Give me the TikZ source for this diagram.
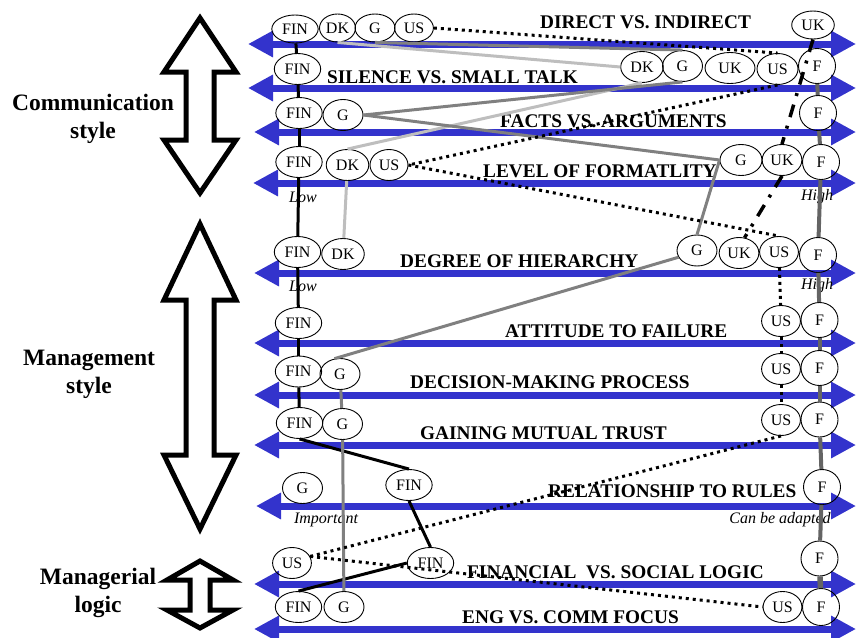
\documentclass[tikz,border=0pt]{standalone}
\usepackage{fontspec}
\setmainfont{Liberation Serif}
\usetikzlibrary{shapes.geometric,arrows.meta}
\definecolor{axisblue}{RGB}{51,51,204}
\definecolor{dkgray}{RGB}{190,190,190}
\definecolor{ggray}{RGB}{128,128,128}
\definecolor{fgray}{RGB}{100,100,100}
\begin{document}
\begin{tikzpicture}[x=1pt,y=-1pt,
  axisline/.style={line width=7pt, axisblue,
    {Triangle[length=25pt,width=25pt]}-{Triangle[length=25pt,width=25pt]}},
  dimtitle/.style={font=\fontsize{19.3}{22}\selectfont\bfseries, anchor=base west, inner sep=0pt},
  landnode/.style={ellipse, draw, line width=0.9pt, font=\fontsize{16}{18}\selectfont,
    inner xsep=3.5pt, inner ysep=0pt, minimum width=38pt, minimum height=31pt},
  gnode/.style={landnode, minimum width=40pt},
  fnode/.style={landnode, minimum width=37pt, minimum height=35pt},
  polelabel/.style={font=\fontsize{16}{18}\selectfont\itshape, inner sep=0pt},
  grouplabel/.style={font=\fontsize{23.5}{28}\selectfont\bfseries, anchor=base, inner sep=0pt},
  bigarrow/.style={draw=black, line width=5pt, fill=white, line join=miter},
  finline/.style={line width=3pt, black},
  dkline/.style={line width=3pt, dkgray},
  gline/.style={line width=3pt, ggray},
  ukline/.style={line width=3.5pt, black, dash pattern=on 13pt off 9pt on 3pt off 9pt},
  usline/.style={line width=3pt, black, dash pattern=on 3pt off 4pt},
  fline/.style={line width=4pt, fgray},
]
\useasboundingbox (0,0) rectangle (856,637);

% group arrows on the left
\draw[bigarrow] (200,18) -- (236,72) -- (214,72) -- (214,140) -- (236,140) -- (200,193)
  -- (164,140) -- (186,140) -- (186,72) -- (164,72) -- cycle;
\draw[bigarrow] (200,224) -- (236,300) -- (214,300) -- (214,455) -- (236,455) -- (200,529)
  -- (164,455) -- (186,455) -- (186,300) -- (164,300) -- cycle;
\draw[bigarrow] (200,561) -- (233,580) -- (210,580) -- (210,610) -- (233,610) -- (200,628)
  -- (167,610) -- (190,610) -- (190,580) -- (167,580) -- cycle;

\node[grouplabel] (gc1) at (93,110) {Communication};
\node[grouplabel] (gc2) at (93,138) {style};
\node[grouplabel] (gm1) at (89,365) {Management};
\node[grouplabel] (gm2) at (89,393) {style};
\node[grouplabel] (gl1) at (98,584) {Managerial};
\node[grouplabel] (gl2) at (98,612) {logic};

% dimension axes
\draw[axisline] (248,44) -- (856,44);
\draw[axisline] (248,88) -- (856,88);
\draw[axisline] (254,132) -- (856,132);
\draw[axisline] (253,183) -- (856,183);
\draw[axisline] (254,273) -- (856,273);
\draw[axisline] (254,343) -- (856,343);
\draw[axisline] (254,395) -- (856,395);
\draw[axisline] (254,445) -- (856,445);
\draw[axisline] (256,506) -- (856,506);
\draw[axisline] (254,584) -- (856,584);
\draw[axisline] (254,629) -- (856,629);

% dimension titles
\node[dimtitle] (t1) at (540,28) {DIRECT VS. INDIRECT};
\node[dimtitle] (t2) at (327,83) {SILENCE VS. SMALL TALK};
\node[dimtitle] (t3) at (500,127) {FACTS VS. ARGUMENTS};
\node[dimtitle] (t4) at (483,177) {LEVEL OF FORMATLITY};
\node[dimtitle] (t5) at (400,267) {DEGREE OF HIERARCHY};
\node[dimtitle] (t6) at (505,337) {ATTITUDE TO FAILURE};
\node[dimtitle] (t7) at (410,388) {DECISION-MAKING PROCESS};
\node[dimtitle] (t8) at (420,439) {GAINING MUTUAL TRUST};
\node[dimtitle] (t9) at (548,497) {RELATIONSHIP TO RULES};
\node[dimtitle] (t10) at (467,578) {FINANCIAL\ \ VS. SOCIAL LOGIC};
\node[dimtitle] (t11) at (462,623) {ENG VS. COMM FOCUS};

% pole labels
\node[polelabel] (lo4) at (303,197) {Low};
\node[polelabel] (hi4) at (817,197) {High};
\node[polelabel] (lo5) at (303,286) {Low};
\node[polelabel] (hi5) at (817,286) {High};
\node[polelabel] (lo9) at (326,520) {Important};
\node[polelabel] (hi9) at (780,520) {Can be adapted};

% country positions
\node[landnode, minimum height=28pt] (FIN1) at (295,29) {FIN};
\node[landnode, minimum height=28pt, inner xsep=0pt, minimum width=36pt] (DK1) at (337.5,28) {DK};
\node[gnode, minimum height=28pt] (G1) at (375,28) {G};
\node[landnode, minimum height=28pt] (US1) at (414,28) {US};
\node[landnode, minimum height=28pt] (UK1) at (813,25) {UK};

\node[landnode] (FIN2) at (297.5,69) {FIN};
\node[landnode] (DK2) at (642,67) {DK};
\node[gnode] (G2) at (682.5,66) {G};
\node[landnode, minimum width=50pt] (UK2) at (730,68) {UK};
\node[landnode, minimum width=41pt] (US2) at (777.5,69) {US};
\node[fnode] (F2) at (817,66) {F};

\node[landnode] (FIN3) at (299,113) {FIN};
\node[gnode] (G3) at (343,115) {G};
\node[fnode] (F3) at (818,113) {F};

\node[landnode] (FIN4) at (299,162) {FIN};
\node[landnode] (DK4) at (347.5,165) {DK};
\node[landnode, inner xsep=2.5pt] (US4) at (389,165) {US};
\node[gnode, minimum width=42pt] (G4) at (741,160) {G};
\node[landnode, inner xsep=2.5pt] (UK4) at (782,160) {UK};
\node[fnode] (F4) at (821,162) {F};

\node[landnode] (FIN5) at (297.5,252) {FIN};
\node[landnode] (DK5) at (343,254) {DK};
\node[gnode] (G5) at (697,250.5) {G};
\node[landnode, inner xsep=2.5pt] (UK5) at (739,253) {UK};
\node[landnode] (US5) at (779,252) {US};
\node[fnode] (F5) at (818,255) {F};

\node[landnode] (FIN6) at (298.5,323) {FIN};
\node[landnode] (US6) at (781,321) {US};
\node[fnode] (F6) at (819.5,320) {F};

\node[landnode] (FIN7) at (298.5,371.5) {FIN};
\node[gnode] (G7) at (340,374) {G};
\node[landnode] (US7) at (781,369) {US};
\node[fnode] (F7) at (819.5,368) {F};

\node[landnode] (FIN8) at (299.5,423) {FIN};
\node[gnode] (G8) at (342.5,424) {G};
\node[landnode] (US8) at (781,420) {US};
\node[fnode] (F8) at (819.5,419.5) {F};

\node[gnode] (G9) at (302.5,488) {G};
\node[landnode] (FIN9) at (409,485) {FIN};
\node[fnode] (F9) at (822,487) {F};

\node[landnode] (US10) at (292,563) {US};
\node[landnode] (FIN10) at (430.5,563) {FIN};
\node[fnode] (F10) at (819.5,558.5) {F};

\node[landnode] (FIN11) at (298.5,607) {FIN};
\node[gnode] (G11) at (344,607) {G};
\node[landnode] (US11) at (782.5,607) {US};
\node[fnode, minimum height=37pt] (F11) at (821,607) {F};

% FIN profile
\draw[finline] (FIN1) -- (FIN2);
\draw[finline] (FIN2) -- (FIN3);
\draw[finline] (FIN3) -- (FIN4);
\draw[finline] (FIN4) -- (FIN5);
\draw[finline] (FIN5) -- (FIN6);
\draw[finline] (FIN6) -- (FIN7);
\draw[finline] (FIN7) -- (FIN8);
\draw[finline] (FIN8.south) -- (FIN9.north);
\draw[finline] (FIN9.south) -- (FIN10.north);
\draw[finline] (FIN10.west) -- (FIN11.north);

% DK profile
\draw[dkline] (DK1.south) -- (DK2.west);
\draw[dkline] (DK2.south) -- (DK4.north);
\draw[dkline] (DK4) -- (DK5);

% G profile
\draw[gline] (G1.south) -- (G2.north);
\draw[gline] (G2.south) -- (G3.east);
\draw[gline] (G3.east) -- (G4.west);
\draw[gline] (G4.west) -- (G5.north);
\draw[gline] (G5.200) -- (G7.110);
\draw[gline] (G7) -- (G8);
\draw[gline] (G8) -- (G11);

% UK profile
\draw[ukline] (UK1.south) -- (UK4.north);
\draw[ukline] (UK4.south) -- (UK5.70);

% US profile
\draw[usline] (US1.east) -- (US2.north);
\draw[usline] (US2.south) -- (US4.east);
\draw[usline] (US4.east) -- (US5.north);
\draw[usline] (US5) -- (US6);
\draw[usline] (US6) -- (US7);
\draw[usline] (US7) -- (US8);
\draw[usline] (US8.south) -- (US10.20);
\draw[usline] (US10.20) -- (US11.west);

% F profile
\draw[fline] (F2) -- (F3);
\draw[fline] (F3) -- (F4);
\draw[fline] (F4) -- (F5);
\draw[fline] (F5) -- (F6);
\draw[fline] (F6) -- (F7);
\draw[fline] (F7) -- (F8);
\draw[fline] (F8) -- (F9);
\draw[fline] (F9) -- (F10);
\draw[fline, line width=5.5pt] (F10) -- (F11);
\end{tikzpicture}
\end{document}
